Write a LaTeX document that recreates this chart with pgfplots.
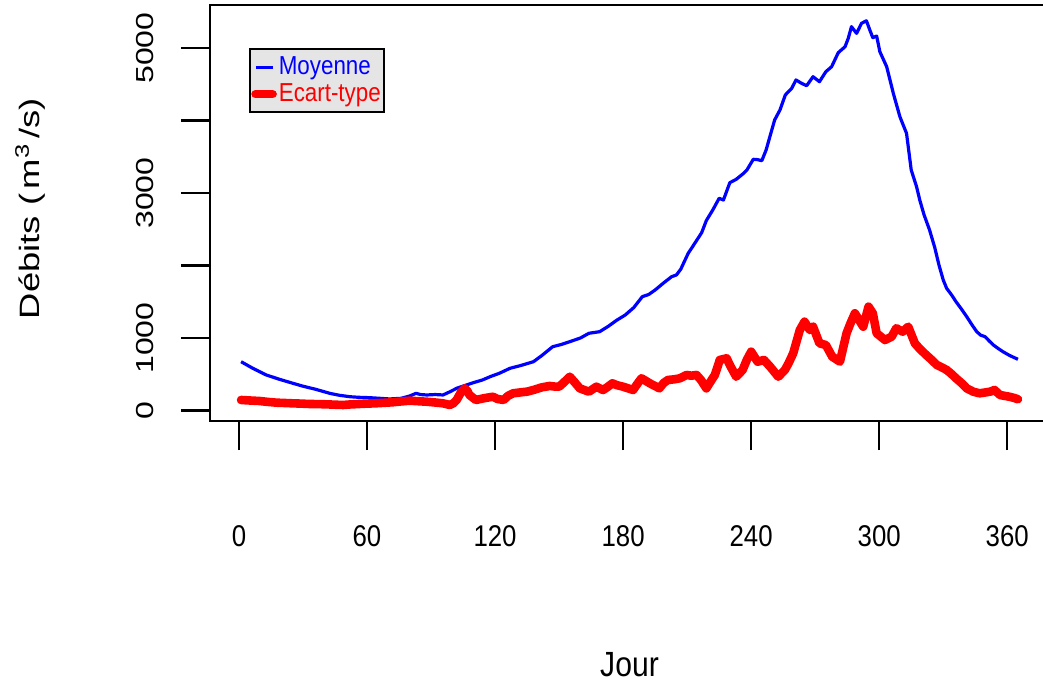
\documentclass[border=0pt]{standalone}
\usepackage{fontspec}
\setmainfont{Liberation Sans}
\newfontfamily\hfont{Liberation Sans}[FakeStretch=0.86]
\newfontfamily\vfont{Liberation Sans}[FakeStretch=1.3]
\usepackage{pgfplots}
\pgfplotsset{compat=1.18}

\definecolor{rblue}{RGB}{0,0,255}
\definecolor{rred}{RGB}{255,0,0}
\definecolor{rgray}{RGB}{229,229,229}

\begin{document}
\begin{tikzpicture}

\begin{axis}[
	name=ax,
	scale only axis,
	width=419.5pt, height=208pt,
	xmin=-13.56, xmax=379.56,
	ymin=-145, ymax=5593,
	tick pos=left,
	tick align=outside,
	major tick length=14.5pt,
	axis line style={line width=1.3pt},
	tick style={line width=1.2pt, black},
	xtick={0,60,...,360},
	ytick={0,1000,...,5000},
	yticklabels={0,1000,,3000,,5000},
	/pgf/number format/assume math mode=true,
	xticklabel style={font=\hfont\fontsize{15}{18}\selectfont, anchor=base, yshift=-48pt},
	yticklabel style={font=\vfont\fontsize{12.3}{14}\selectfont, xshift=-10pt, rotate=90, anchor=south},
	xlabel={Jour},
	ylabel={Débits (\,m\textsuperscript{3}\,/s)},
	every axis x label/.style={at={(axis description cs:0.5,-0.613)}, anchor=base, font=\hfont\fontsize{17.5}{20}\selectfont},
	every axis y label/.style={at={(axis description cs:-0.2035,0.51)}, rotate=90, anchor=base, font=\vfont\fontsize{14}{16}\selectfont},
	legend style={at={(axis description cs:0.0468,0.896)}, anchor=north west,
		fill=rgray, draw=black, line width=1pt,
		inner xsep=0.5pt, inner ysep=2.5pt, row sep=0.5pt,
		font=\hfont\fontsize{13}{15}\selectfont,
		nodes={inner sep=1pt, text depth=0.2em}},
	legend cell align=left,
	legend image code/.code={\draw[#1] (0pt,0pt) -- (8.5pt,0pt);},
]

\addplot[rblue, line width=1.6pt, line join=round] coordinates {
(1,673) (6,590) (12.8,490) (19,430) (25.3,375) (30,335) (36,292) (42.5,237)
(47,210) (52,190) (56,182) (61,177) (66,168) (70.6,159) (76,168) (80,200)
(83,237) (85,220) (88,214) (92,220) (95.6,214) (99,260) (102,306) (106.6,352)
(110,385) (114,420) (118,470) (122,513) (127,582) (132,620) (138,673) (142,760)
(147,880) (151,910) (155,949) (160,1000) (164,1065) (169,1087) (173,1160) (177,1245)
(181,1317) (185,1420) (189,1570) (192,1600) (195,1662) (199,1760) (202.7,1845) (205,1870)
(207,1948) (210.5,2168) (213,2280) (216.8,2452) (219,2620) (222,2765) (225,2927) (227,2903)
(230,3142) (233,3189) (236,3260) (238,3317) (241,3465) (243,3460) (245,3445) (247,3593)
(249,3800) (251,4007) (253.5,4145) (256,4352) (259,4444) (261,4559) (263.6,4513) (266,4480)
(269,4604) (272,4535) (275,4673) (277.7,4742) (280.8,4935) (284,5018) (285.5,5134) (287,5294)
(289.4,5202) (291.7,5340) (294,5376) (295.6,5248) (297,5142) (298.8,5165) (300.3,4949) (303.5,4742)
(306.6,4375) (309.7,4052) (312.8,3823) (315,3317) (317.5,3087) (319,2903) (321,2700) (323.6,2489)
(326,2250) (328,2006) (330,1800) (331.6,1685) (334,1590) (336,1500) (338.5,1400) (341,1294)
(343.5,1180) (345.7,1087) (347.5,1040) (349.6,1018) (351.5,960) (353.5,903) (356,850) (358,811)
(361,760) (365,706)
};
\addlegendentry{\textcolor{rblue}{Moyenne}}

\addplot[rred, line width=4.3pt, line join=round, line cap=round] coordinates {
(1,145) (5,138) (9.7,131) (13,120) (17.5,108) (21,104) (25,99) (29,95)
(32.8,90) (37,88) (41,85) (45,80) (48.8,76) (52,83) (56.6,90) (60,95)
(64,99) (68,106) (72,113) (76,125) (80,135) (84,128) (88,121) (92,110)
(95.6,99) (98.8,76) (100.5,100) (102,145) (104,250) (105.8,306) (107,270) (108,214)
(111,145) (115,170) (119,190) (121,160) (124,145) (126,200) (128.5,237) (132,250)
(135,260) (138,283) (142,320) (145.6,338) (148,330) (150,328) (152,380) (155,466)
(157,400) (159.7,306) (162,280) (164,260) (167.5,328) (170.6,283) (173,330) (175,375)
(177,350) (180,328) (184.7,283) (186.5,360) (188.6,444) (190,420) (192.5,375) (197,306)
(199,380) (201,421) (204,430) (206.6,444) (209.7,490) (212,480) (214.4,490) (216.5,420)
(219,306) (221,400) (223,490) (225.3,697) (228.5,720) (230.5,600) (233,466) (236,559)
(238,700) (240,811) (243,673) (246,697) (249,600) (252.7,466) (255.8,559) (257.5,650)
(259.7,789) (262.8,1110) (265,1225) (267.5,1110) (269,1156) (272,927) (275,903) (278,742)
(281.6,673) (284.7,1065) (286.5,1200) (288.6,1341) (290.5,1250) (292.5,1156) (295,1432) (297,1341)
(298.8,1065) (302.7,972) (305.8,1018) (308,1134) (311,1087) (313.6,1156) (316.7,927) (319,850)
(322,766) (324.5,700) (327,628) (329,600) (331.6,559) (334,500) (336,444) (338.5,380)
(341,306) (344,260) (347,237) (350,250) (352,260) (354,283) (356.6,214) (359,200)
(361,190) (363,175) (365,155)
};
\addlegendentry{\textcolor{rred}{Ecart-type}\hspace{5pt}}

\end{axis}

\pgfresetboundingbox
\useasboundingbox (ax.south west) ++(-105pt,-131.5pt) rectangle ++(521.5pt,342pt);
\end{tikzpicture}
\end{document}
